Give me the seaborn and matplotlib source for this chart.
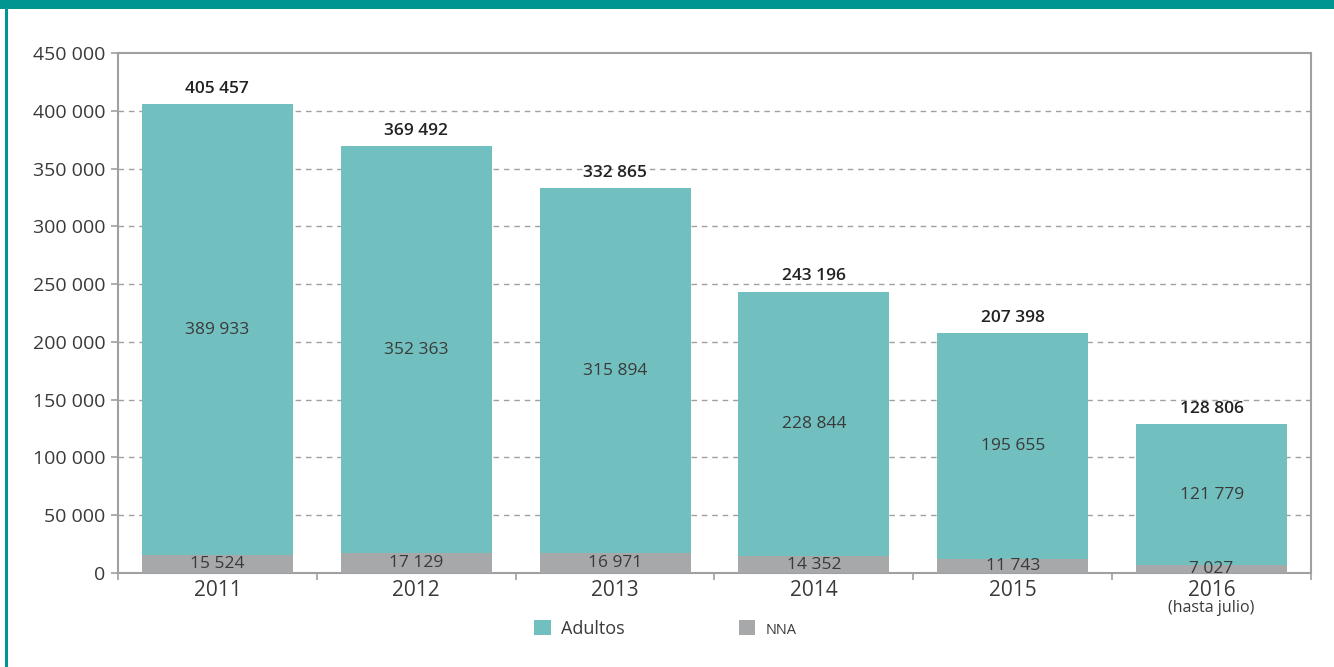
import matplotlib
matplotlib.use("Agg")
import matplotlib.pyplot as plt
from matplotlib.patches import Rectangle, Patch
import seaborn as sns
import numpy as np

# Data
years = ["2011", "2012", "2013", "2014", "2015", "2016"]
adultos = [389933, 352363, 315894, 228844, 195655, 121779]
nna = [15524, 17129, 16971, 14352, 11743, 7027]
yticks = [0, 50000, 100000, 150000, 200000, 250000, 300000, 350000, 400000, 450000]

TEAL = "#72BFBF"
GRAY = "#A7A8AA"
FRAME = "#A0A0A2"
BORDER = "#00968F"
TEXT = "#3A3A3A"

def fmt(v):
    return f"{v:,}".replace(",", " ")

sns.set_theme(style="white")
plt.rcParams["font.family"] = ["Open Sans", "DejaVu Sans"]

totals = [a + n for a, n in zip(adultos, nna)]

fig = plt.figure(figsize=(13.34, 6.67), dpi=100)
ax = fig.add_axes([118 / 1334, 1 - 573 / 667, (1311 - 118) / 1334, (573 - 53) / 667])

# Stacked bars: full total in teal, NNA overlay in gray at the base
sns.barplot(x=years, y=totals, color=TEAL, saturation=1, width=0.76, ax=ax,
            linewidth=0, edgecolor="none", zorder=2)
sns.barplot(x=years, y=nna, color=GRAY, saturation=1, width=0.76, ax=ax,
            linewidth=0, edgecolor="none", zorder=3)

ax.set_xlim(-0.5, 5.5)
ax.set_ylim(0, 450000)
ax.set_yticks(yticks)
ax.set_yticklabels([fmt(v) for v in yticks], fontsize=14, color=TEXT)
ax.set_xlabel("")
ax.set_ylabel("")

# Dashed horizontal gridlines
for v in yticks[1:-1]:
    ax.axhline(v, color=FRAME, lw=1, ls=(0, (4, 3.5)), zorder=1)

for s in ax.spines.values():
    s.set_color(FRAME)
    s.set_linewidth(1.5)
    s.set_visible(True)

ax.tick_params(axis="y", length=5, width=1.2, color=FRAME, pad=4, left=True)
ax.set_xticks(range(len(years)))
ax.set_xticklabels(years, fontsize=15, color=TEXT)
ax.tick_params(axis="x", which="major", length=0, pad=5)
ax.set_xticks(np.arange(-0.5, 6, 1), minor=True)
ax.tick_params(axis="x", which="minor", length=5, width=1.2, color=FRAME, bottom=True)

ax.text(5, -30500, "(hasta julio)", ha="center", va="center", fontsize=11.5, color=TEXT)

# Value labels
for i, (a, n, t) in enumerate(zip(adultos, nna, totals)):
    ax.text(i, t + 6500, fmt(t), ha="center", va="bottom", fontsize=12.5,
            fontweight="semibold", color="#222222", zorder=5)
    ax.text(i, n + a / 2, fmt(a), ha="center", va="center", fontsize=12.5,
            color=TEXT, zorder=5)
    ax.text(i, n / 2, fmt(n), ha="center", va="center", fontsize=12.5,
            color=TEXT, zorder=5)

# Legend
handles = [Patch(facecolor=TEAL, edgecolor="none"), Patch(facecolor=GRAY, edgecolor="none")]
leg = fig.legend(handles, ["Adultos", "NNA"], loc="center", bbox_to_anchor=(0.499, 1 - 629 / 667),
                 ncol=2, frameon=False, fontsize=13, handlelength=0.9, handleheight=0.9,
                 handletextpad=0.6, columnspacing=6.3)
for txt in leg.get_texts():
    txt.set_color(TEXT)
leg.get_texts()[1].set_fontsize(10.5)

# Teal frame: top band and left rule
fig.patches.append(Rectangle((0, 1 - 9 / 667), 1, 9 / 667, transform=fig.transFigure,
                             facecolor=BORDER, edgecolor="none", zorder=0))
fig.patches.append(Rectangle((5 / 1334, 0), 3 / 1334, 1, transform=fig.transFigure,
                             facecolor=BORDER, edgecolor="none", zorder=0))

fig.savefig("out.png", dpi=100)
